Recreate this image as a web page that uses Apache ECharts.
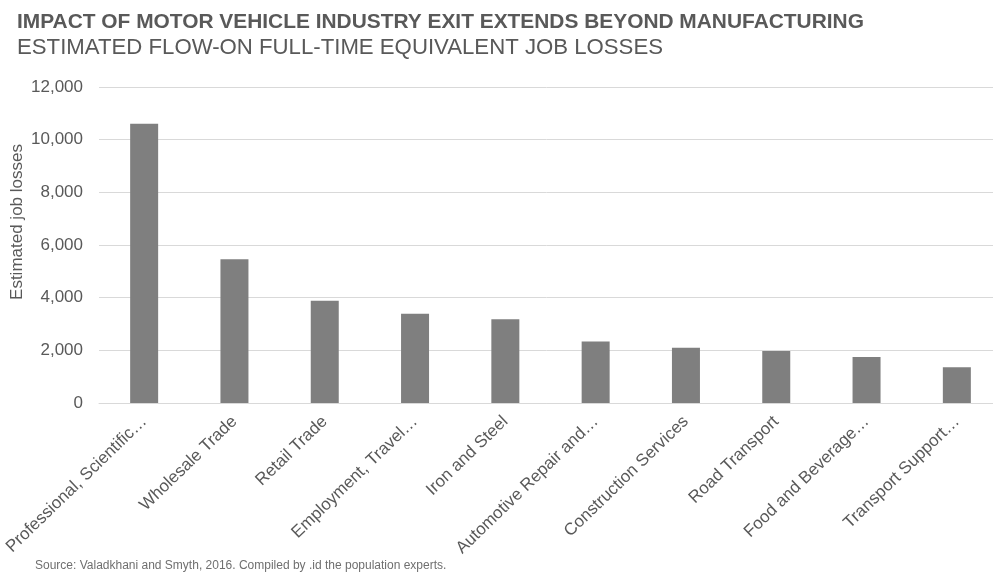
<!DOCTYPE html>
<html><head><meta charset="utf-8">
<script src="https://cdn.jsdelivr.net/npm/echarts@6/dist/echarts.min.js"></script>
<style>html,body{margin:0;padding:0;background:#fff}#c{width:993px;height:573px}</style>
</head><body><div id="c"></div>
<script>
const categories = ["Professional, Scientific…","Wholesale Trade","Retail Trade","Employment, Travel…","Iron and Steel","Automotive Repair and…","Construction Services","Road Transport","Food and Beverage…","Transport Support…"];
const jobLosses = [10600, 5460, 3880, 3390, 3180, 2340, 2100, 1975, 1750, 1360];
const yTicks = {min: 0, max: 12000, interval: 2000};
const titleText = "IMPACT OF MOTOR VEHICLE INDUSTRY EXIT EXTENDS BEYOND MANUFACTURING";
const subtitleText = "ESTIMATED FLOW-ON FULL-TIME EQUIVALENT JOB LOSSES";
const sourceText = "Source: Valadkhani and Smyth, 2016. Compiled by .id the population experts.";
const yName = "Estimated job losses";

const chart = echarts.init(document.getElementById('c'), null, {renderer: 'canvas'});
chart.setOption({
  animation: false,
  backgroundColor: '#fff',
  title: [
    {text: titleText, left: 12, top: 7, textStyle: {fontFamily: 'Liberation Sans', fontSize: 20.9, fontWeight: 'bold', color: '#595959'}},
    {text: subtitleText, left: 12, top: 32, textStyle: {fontFamily: 'Liberation Sans', fontSize: 22.2, fontWeight: 'normal', color: '#595959'}},
    {text: sourceText, left: 30, top: 555, textStyle: {fontFamily: 'Liberation Sans', fontSize: 12, fontWeight: 'normal', color: '#6f6f6f'}}
  ],
  grid: {left: 99, right: -9, top: 87, bottom: 170, containLabel: false, outerBoundsMode: 'none'},
  xAxis: {
    type: 'category', data: categories,
    axisLine: {show: true, lineStyle: {color: '#d9d9d9', width: 1}},
    axisTick: {show: false},
    axisLabel: {rotate: 44, interval: 0, fontFamily: 'Liberation Sans', fontSize: 17, color: '#595959', margin: 16}
  },
  yAxis: {
    type: 'value', min: yTicks.min, max: yTicks.max, interval: yTicks.interval,
    name: yName, nameLocation: 'middle', nameGap: 73, nameRotate: 90, nameMoveOverlap: false,
    nameTextStyle: {fontFamily: 'Liberation Sans', fontSize: 17, color: '#595959', padding: [0, 0, 0, 46]},
    axisLine: {show: false}, axisTick: {show: false},
    axisLabel: {fontFamily: 'Liberation Sans', fontSize: 17, color: '#595959', margin: 16,
      formatter: v => v.toLocaleString('en-US')},
    splitLine: {lineStyle: {color: '#d9d9d9', width: 1}}
  },
  series: [{type: 'bar', data: jobLosses, barWidth: 28, itemStyle: {color: '#7f7f7f'}}]
});
</script></body></html>
